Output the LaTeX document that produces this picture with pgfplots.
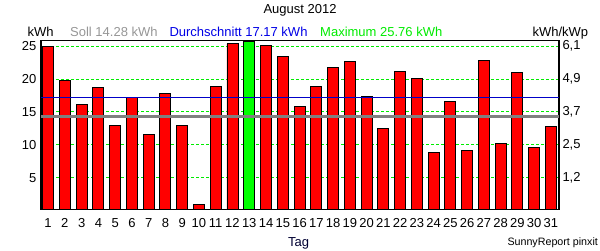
\documentclass[border=0pt]{standalone}
\usepackage{fontspec}
\setmainfont{Liberation Sans}
\usepackage{pgfplots}
\usepackage{pgfplotstable}
\pgfplotsset{compat=1.18}
\definecolor{barred}{RGB}{255,0,0}
\definecolor{bargreen}{RGB}{0,255,0}
\definecolor{gridgreen}{RGB}{0,235,0}
\definecolor{avgblue}{RGB}{0,0,200}
\definecolor{sollgray}{RGB}{128,128,128}
\definecolor{solltext}{RGB}{150,150,150}
\definecolor{durchtext}{RGB}{0,0,230}
\definecolor{maxtext}{RGB}{0,235,0}
\definecolor{tagcol}{RGB}{0,0,50}
\newcommand\f{\fontsize{13bp}{15bp}\selectfont}
\newcommand\fs{\fontsize{10.7bp}{12bp}\selectfont}

\pgfplotstableread{
day kwh
1 24.87
2 19.80
3 16.14
4 18.70
5 12.95
6 17.20
7 11.60
8 17.85
9 12.95
10 0.90
11 18.87
12 25.38
14 25.08
15 23.46
16 15.88
17 18.87
18 21.75
19 22.65
20 17.35
21 12.50
22 21.14
23 20.08
24 8.87
25 16.60
26 9.17
27 22.80
28 10.23
29 20.99
30 9.63
31 12.80
}\redbars
\pgfplotstableread{
day kwh
13 25.76
}\greenbars

\begin{document}
\begin{tikzpicture}[x=1bp,y=1bp]
\useasboundingbox (0,0) rectangle (600,250);
\begin{axis}[
  at={(41bp,40.5bp)}, anchor=south west, scale only axis,
  width=518bp, height=169bp,
  xmin=0.577, xmax=31.48, ymin=0.17, ymax=25.85,
  xtick={1,...,31},
  xticklabels={1,2,3,4,5,6,7,8,9,10,11,12,13,14,15,16,17,18,19,20,21,22,23,24,25,26,27,28,29,30,31},
  ytick={5,10,15,20,25},
  yticklabels={5,10,15,20,25},
  major tick length=0pt,
  xticklabel style={font=\f, anchor=base, inner sep=0pt, yshift=-17.8bp},
  yticklabel style={font=\f, anchor=east, inner sep=0pt, xshift=-4.5bp},
  ymajorgrids, grid style={gridgreen, dashed, line width=0.9bp, dash pattern=on 3bp off 2bp},
  axis line style={black, line width=1.3bp},
  clip=true,
]
\addplot[ybar, bar width=11bp, bar shift=0pt, fill=barred, draw=black, line width=0.9bp] table[x=day,y=kwh] {\redbars};
\addplot[ybar, bar width=11bp, bar shift=0pt, fill=bargreen, draw=black, line width=0.9bp] table[x=day,y=kwh] {\greenbars};
\addplot[avgblue, line width=1bp] coordinates {(0.577,17.17) (31.48,17.17)};
\addplot[sollgray, line width=2.7bp] coordinates {(0.577,14.28) (31.48,14.28)};
\end{axis}
\begin{axis}[
  at={(41bp,40.5bp)}, anchor=south west, scale only axis,
  width=518bp, height=169bp,
  xmin=0.577, xmax=31.48, ymin=0.17, ymax=25.85,
  axis x line=none, axis y line*=right,
  ytick={5,10,15,20,25},
  yticklabels={{1,2},{2,5},{3,7},{4,9},{6,1}},
  major tick length=0pt,
  yticklabel style={font=\f, anchor=west, inner sep=0pt, xshift=3.3bp},
  axis line style={black, line width=1bp},
]
\end{axis}
\node[anchor=base, font=\f] at (300,236.5) {August 2012};
\node[anchor=base west, font=\f, inner sep=0pt] at (27.5,213.3) {kWh};
\node[anchor=base west, font=\f, inner sep=0pt, text=solltext] at (70,213.3) {Soll 14.28 kWh};
\node[anchor=base west, font=\f, inner sep=0pt, text=durchtext] at (169.3,213.3) {Durchschnitt 17.17 kWh};
\node[anchor=base west, font=\f, inner sep=0pt, text=maxtext] at (320,213.3) {Maximum 25.76 kWh};
\node[anchor=base west, font=\f, inner sep=0pt] at (532.3,213.3) {kWh/kWp};
\node[anchor=base, font=\f, inner sep=0pt, text=tagcol] at (298.7,3.5) {Tag};
\node[anchor=base west, font=\fs, inner sep=0pt] at (507.3,5) {SunnyReport pinxit};
\end{tikzpicture}
\end{document}
